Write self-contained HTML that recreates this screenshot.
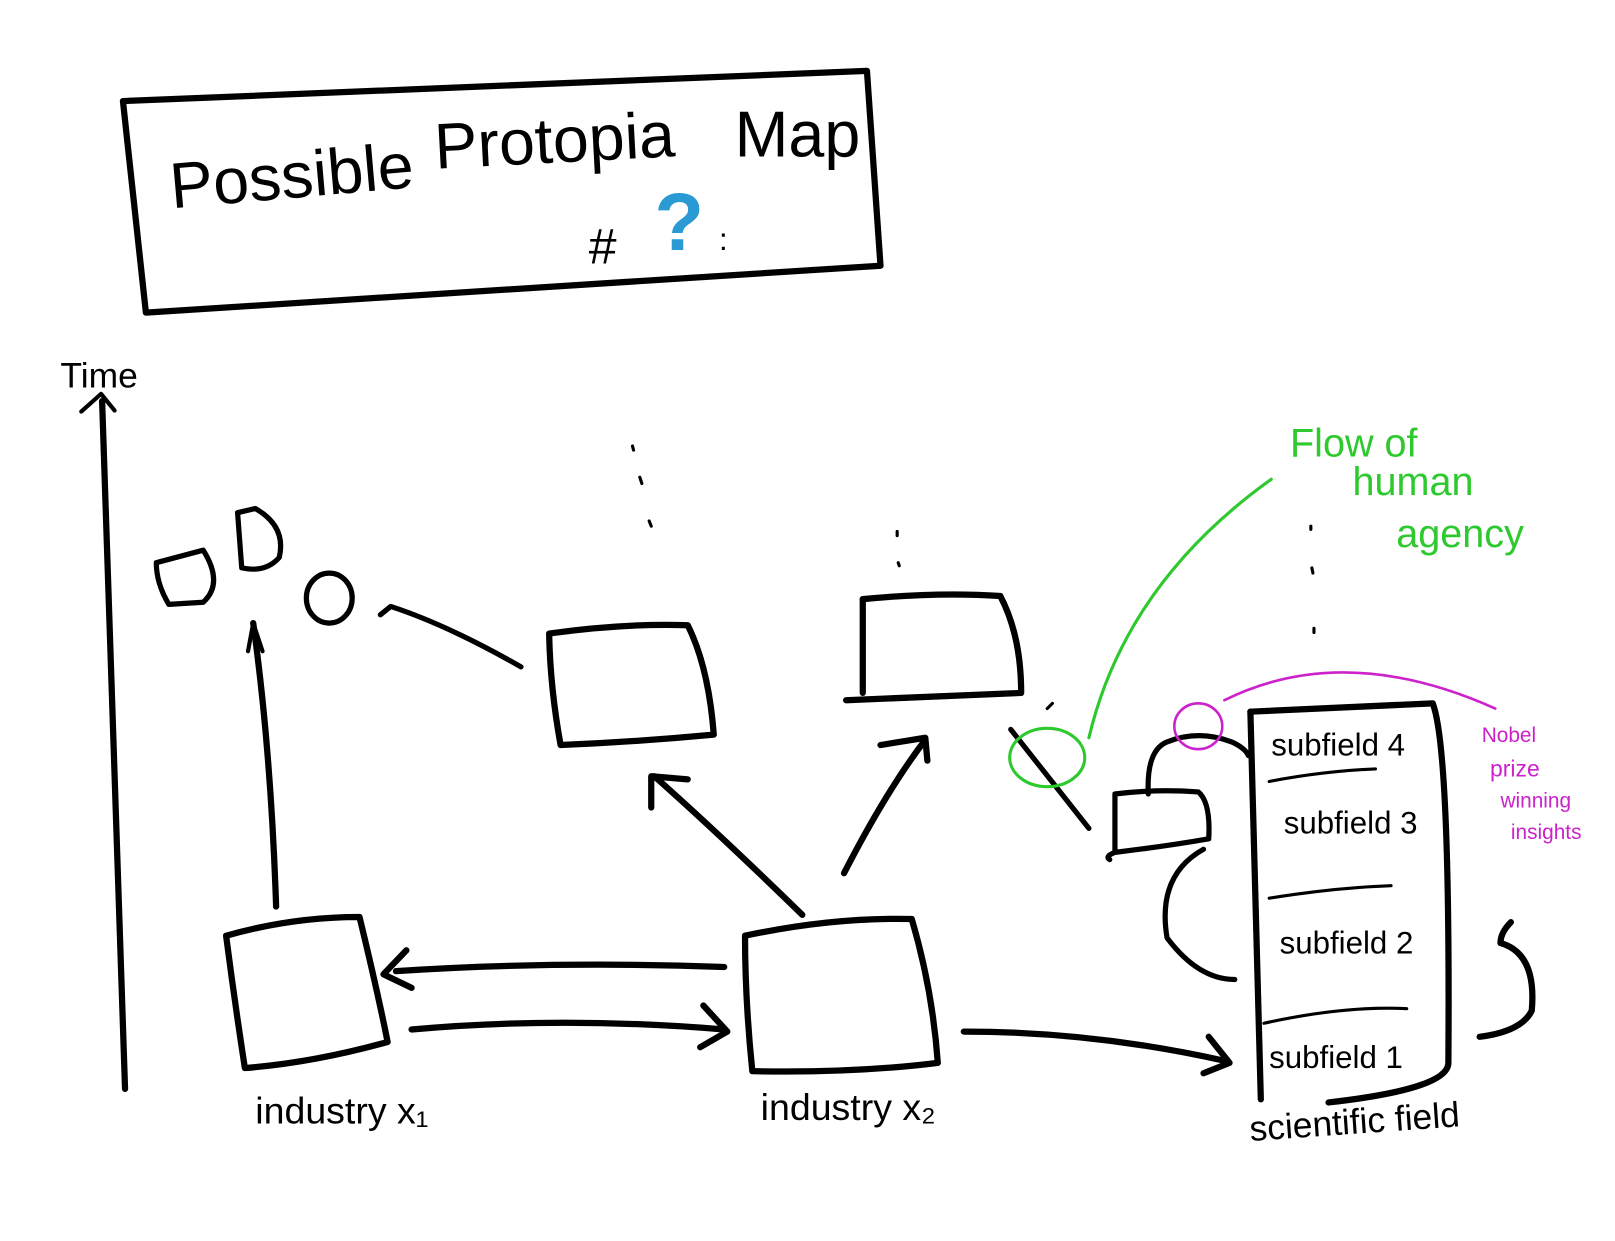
<!DOCTYPE html>
<html><head><style>
html,body{margin:0;padding:0;background:#fff;}
svg{display:block}
text{font-family:"Liberation Sans",sans-serif;}
</style></head><body>
<svg width="1615" height="1241" viewBox="0 0 1615 1241" xmlns="http://www.w3.org/2000/svg">
<rect width="1615" height="1241" fill="#fff"/>
<g transform="scale(1.042)">
<g fill="none" stroke="#000" stroke-width="6" stroke-linecap="round" stroke-linejoin="round">
<path d="M118 97 L832 68 L845 255 L140 300 L118 97"/>
<path d="M98 385 L120 1045"/>
<path d="M78 395 L97 378 L110 394" stroke-width="4"/>
<path d="M150 540 L195 528 Q215 560 195 578 L162 580 Q150 560 150 540Z" stroke-width="5"/>
<path d="M228 492 L245 488 Q275 505 268 535 Q255 550 232 545 Z" stroke-width="5"/>
<ellipse cx="316" cy="574" rx="22" ry="24" stroke-width="5"/>
<path d="M500 640 Q430 600 375 582 L365 590" stroke-width="5"/>
<path d="M527 608 Q600 598 660 600 Q680 640 685 705 Q610 712 538 715 Q528 660 527 608Z"/>
<path d="M828 575 Q900 568 960 572 Q980 610 980 665 Q900 668 812 672"/>
<path d="M828 575 L828 665"/>
<path d="M217 898 Q280 880 345 880 Q362 950 372 1000 Q300 1020 235 1025 Q225 960 217 898Z"/>
<path d="M715 898 Q800 880 875 882 Q895 950 900 1020 Q820 1030 722 1028 Q715 960 715 898Z"/>
<path d="M695 928 Q530 922 380 932" /><path d="M390 912 L368 935 L395 948" />
<path d="M395 988 Q540 975 695 988"/><path d="M675 965 L698 990 L672 1005"/>
<path d="M770 878 Q690 800 628 745"/><path d="M625 775 L625 745 L660 748"/>
<path d="M810 838 Q850 760 888 710"/><path d="M845 715 L888 708 L890 730"/>
<path d="M925 990 Q1050 990 1175 1018"/><path d="M1160 995 L1180 1020 L1155 1030"/>
<path d="M265 870 Q260 720 243 598"/><path d="M238 625 L243 598 L252 625" stroke-width="4"/>
<!-- scientific field -->
<path d="M1200 683 L1375 675 Q1392 720 1390 1020 Q1390 1045 1275 1058"/>
<path d="M1200 683 L1210 1055"/>
<path d="M1218 750 Q1270 740 1320 738" stroke-width="3"/>
<path d="M1218 862 Q1280 852 1335 850" stroke-width="3"/>
<path d="M1213 982 Q1290 965 1350 968" stroke-width="3"/>
<!-- small box and loop -->
<path d="M1070 818 L1070 762 Q1110 757 1150 760 Q1162 770 1160 805 Q1120 812 1070 818 Q1060 822 1065 825" stroke-width="5"/>
<path d="M1102 762 Q1100 720 1120 712 Q1150 700 1182 712 Q1195 718 1198 725" stroke-width="5"/>
<path d="M1155 815 Q1110 840 1120 900 Q1150 940 1185 940" stroke-width="5"/>
<path d="M1450 885 Q1440 895 1440 905 Q1475 915 1470 970 Q1460 990 1420 995"/>
<path d="M607 428 L608 432 M614 458 L616 464 M623 500 L625 505 M861 510 L861 514 M862 540 L863 543 M1258 505 L1258 508 M1259 545 L1260 550 M1261 603 L1261 607 M1005 680 L1010 675" stroke-width="3"/>
<path d="M970 700 L1045 795" stroke-width="5"/>
</g>
<g fill="none" stroke="#2ec92e" stroke-width="3" stroke-linecap="round">
<ellipse cx="1005" cy="727" rx="36" ry="28"/>
<path d="M1045 708 Q1080 560 1220 460"/>
</g>
<g fill="none" stroke="#cc22cc" stroke-width="2.5" stroke-linecap="round">
<ellipse cx="1150" cy="697" rx="23" ry="22"/>
<path d="M1175 672 Q1290 615 1435 680"/>
</g>
<text x="165" y="200" font-size="62" transform="rotate(-5 165 200)">Possible</text>
<text x="418" y="162" font-size="62" transform="rotate(-3 418 162)">Protopia</text>
<text x="705" y="150" font-size="62">Map</text>
<text x="565" y="253" font-size="48">#</text>
<text x="628" y="240" font-size="78" fill="#2a9ad4" font-weight="bold">?</text>
<text x="690" y="240" font-size="30">:</text>
<text x="58" y="372" font-size="34">Time</text>
<text x="1238" y="438" font-size="38" fill="#2ec92e">Flow of</text>
<text x="1298" y="475" font-size="38" fill="#2ec92e">human</text>
<text x="1340" y="525" font-size="38" fill="#2ec92e">agency</text>
<text x="1422" y="712" font-size="20" fill="#cc22cc">Nobel</text>
<text x="1430" y="745" font-size="22" fill="#cc22cc">prize</text>
<text x="1440" y="775" font-size="20" fill="#cc22cc">winning</text>
<text x="1450" y="805" font-size="20" fill="#cc22cc">insights</text>
<text x="1220" y="725" font-size="30">subfield 4</text>
<text x="1232" y="800" font-size="30">subfield 3</text>
<text x="1228" y="915" font-size="30">subfield 2</text>
<text x="1218" y="1025" font-size="30">subfield 1</text>
<text x="245" y="1078" font-size="36">industry x₁</text>
<text x="730" y="1075" font-size="36">industry x₂</text>
<text x="1200" y="1095" font-size="34" transform="rotate(-4 1200 1095)">scientific field</text>
</g>
</svg>
</body></html>
